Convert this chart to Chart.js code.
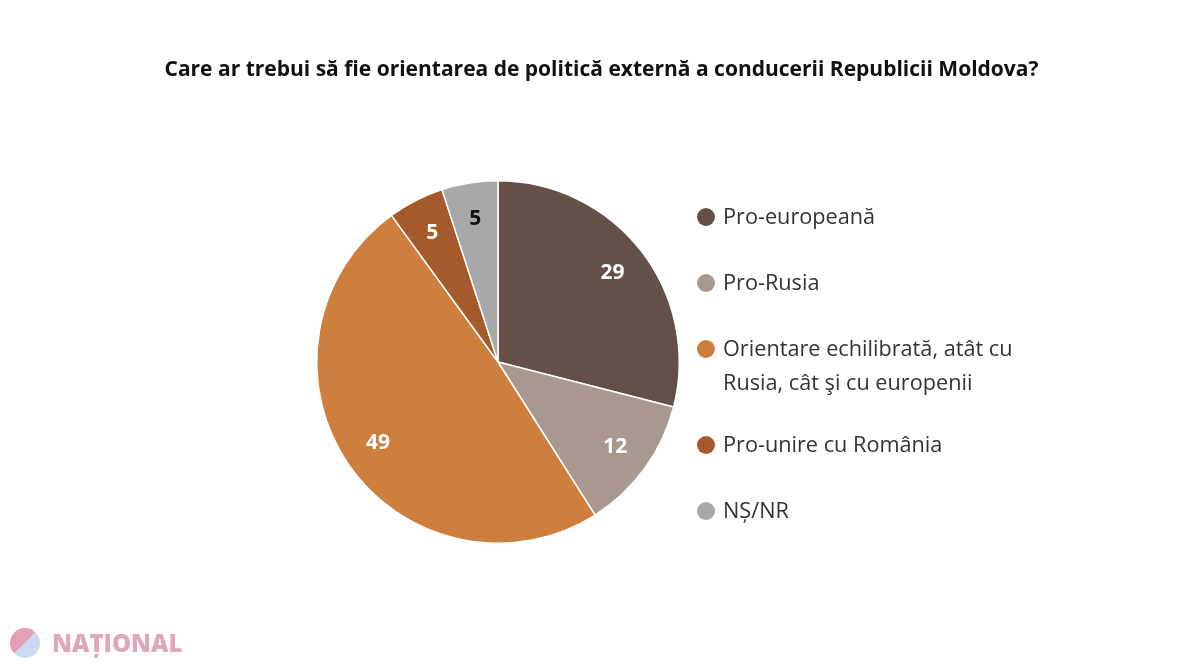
<!DOCTYPE html>
<html>
<head>
<meta charset="utf-8">
<script src="https://cdn.jsdelivr.net/npm/chart.js@4.4.1/dist/chart.umd.min.js"></script>
<style>
    html, body { margin: 0; padding: 0; background: #fff; }
    #wrap { position: relative; width: 1200px; height: 662px; }
    #titlu {
        position: absolute; left: 0; top: 53px; width: 1203px; text-align: center;
        font-family: "Open Sans", sans-serif; font-weight: bold; font-size: 21px; color: #111; line-height: 30px;
    }
    #legenda {
        position: absolute; left: 697px; top: 199px; margin: 0; padding: 0; list-style: none;
        font-family: "Open Sans", sans-serif; font-size: 21.7px; color: #333; line-height: 34px;
    }
    #legenda li { display: flex; align-items: flex-start; margin-bottom: 32px; }
    #legenda li:nth-child(3) { margin-bottom: 28px; }
    #legenda .dot { flex: none; width: 18px; height: 18px; border-radius: 50%; margin: 9px 8px 0 0; }
    #legenda .txt { white-space: pre-line; }
    #logo {
        position: absolute; left: 10px; top: 626px; display: flex; align-items: center;
        font-family: "Open Sans", sans-serif; font-weight: 800; font-size: 24px; color: #d48aa3; opacity: .75;
    }
    #logo .c { width: 30px; height: 30px; border-radius: 50%; margin-right: 12px;
        background: linear-gradient(135deg, #d87f9e 50%, #b9cde8 50%); }
</style>
</head>
<body>
<div id="wrap">
    <canvas id="grafico" width="1200" height="662"></canvas>
    <div id="titlu"></div>
    <ul id="legenda"></ul>
    <div id="logo"><span class="c"></span>NAȚIONAL</div>
</div>
<script>
const titlu = 'Care ar trebui să fie orientarea de politică externă a conducerii Republicii Moldova?'
const categorii = [
    'Pro-europeană',
    'Pro-Rusia',
    'Orientare echilibrată, atât cu\nRusia, cât şi cu europenii',
    'Pro-unire cu România',
    'NȘ/NR'
]
const valori = [29, 12, 49, 5, 5]
const culori = ['#655048', '#a89890', '#cf7f3d', '#a55a2c', '#a8a8a8']
const culoriEticheta = ['#fff', '#fff', '#fff', '#fff', '#111']

// etichete cu valoarea in interiorul feliilor
const eticheteFelii = {
    id: 'eticheteFelii',
    afterDatasetsDraw(chart) {
        const ctx = chart.ctx
        const meta = chart.getDatasetMeta(0)
        ctx.save()
        ctx.font = 'bold 21px "Open Sans", sans-serif'
        ctx.textAlign = 'center'
        ctx.textBaseline = 'middle'
        meta.data.forEach((arc, i) => {
            const p = arc.getProps(['x', 'y', 'startAngle', 'endAngle', 'outerRadius'], true)
            const a = (p.startAngle + p.endAngle) / 2
            const r = p.outerRadius * 0.8
            ctx.fillStyle = culoriEticheta[i]
            ctx.fillText(String(valori[i]), p.x + Math.cos(a) * r, p.y + Math.sin(a) * r)
        })
        ctx.restore()
    }
}

new Chart(document.getElementById('grafico'), {
    type: 'pie',
    data: {
        labels: categorii,
        datasets: [{
            data: valori,
            backgroundColor: culori,
            borderColor: '#fff',
            borderWidth: 1.5
        }]
    },
    options: {
        responsive: false,
        animation: false,
        layout: { padding: { left: 316, right: 520, top: 180, bottom: 118 } },
        plugins: {
            legend: { display: false },
            tooltip: { enabled: false },
            title: { display: false }
        }
    },
    plugins: [eticheteFelii]
})

document.getElementById('titlu').textContent = titlu

const ul = document.getElementById('legenda')
categorii.forEach((c, i) => {
    const li = document.createElement('li')
    li.innerHTML = '<span class="dot" style="background:' + culori[i] + '"></span><span class="txt"></span>'
    li.querySelector('.txt').textContent = c
    ul.appendChild(li)
})
</script>
</body>
</html>
